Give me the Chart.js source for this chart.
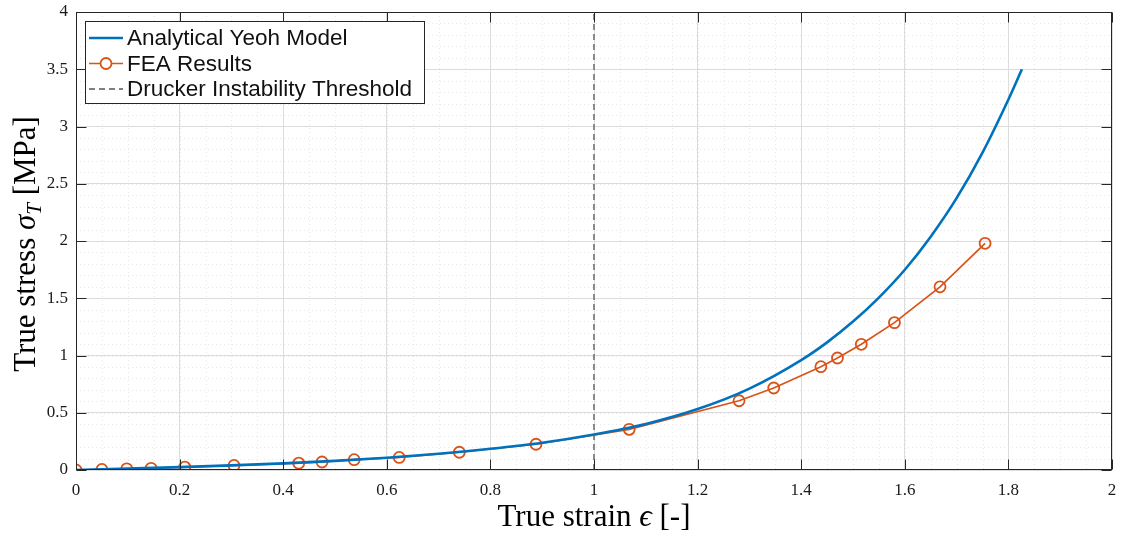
<!DOCTYPE html>
<html>
<head>
<meta charset="utf-8">
<script src="https://cdn.jsdelivr.net/npm/chart.js@4.4.0/dist/chart.umd.min.js"></script>
<style>
  html, body { margin: 0; padding: 0; background: #fff; }
  #wrap { width: 1123px; height: 536px; }
</style>
</head>
<body>
<div id="wrap"><canvas id="stressChart" width="1123" height="536"></canvas></div>
<script>
// analytical Yeoh curve
const yeohStrain = [0, 0.1, 0.2, 0.3, 0.4, 0.5, 0.6, 0.7, 0.8, 0.9, 1.0, 1.1, 1.2, 1.3, 1.4, 1.45, 1.5, 1.55, 1.6, 1.65, 1.7, 1.75, 1.8, 1.826];
const yeohStress = [0, 0.012, 0.025, 0.04, 0.058, 0.08, 0.107, 0.142, 0.185, 0.238, 0.31, 0.402, 0.532, 0.711, 0.96, 1.115, 1.296, 1.506, 1.749, 2.038, 2.374, 2.772, 3.236, 3.5];

// FEA markers
const feaStrain = [0, 0.05, 0.098, 0.145, 0.21, 0.305, 0.43, 0.475, 0.537, 0.624, 0.74, 0.888, 1.068, 1.28, 1.347, 1.438, 1.47, 1.516, 1.58, 1.668, 1.755];
const feaStress = [0, 0.005, 0.01, 0.015, 0.025, 0.04, 0.06, 0.07, 0.09, 0.11, 0.155, 0.225, 0.355, 0.605, 0.716, 0.902, 0.978, 1.098, 1.287, 1.6, 1.98];

const druckerStrain = 1;
const xTicks = [0, 0.2, 0.4, 0.6, 0.8, 1, 1.2, 1.4, 1.6, 1.8, 2];
const yTicks = [0, 0.5, 1, 1.5, 2, 2.5, 3, 3.5, 4];

const BLUE = '#0072BD';
const ORANGE = '#D95319';
const AXIS = '#262626';
const SERIF = '"Liberation Serif", "DejaVu Serif", serif';

const toPts = (xs, ys) => xs.map((x, i) => ({ x: x, y: ys[i] }));

// minor grid (dotted) under everything else
const minorGrid = {
  id: 'minorGrid',
  beforeDraw(chart) {
    const { ctx, chartArea: a, scales } = chart;
    ctx.save();
    ctx.fillStyle = '#fff';
    ctx.fillRect(0, 0, chart.width, chart.height);
    ctx.strokeStyle = '#e8e8e8';
    ctx.lineWidth = 1;
    ctx.setLineDash([1, 3]);
    for (let v = 0.05; v < 2; v += 0.05) {
      const px = Math.round(scales.x.getPixelForValue(v)) + 0.5;
      ctx.beginPath(); ctx.moveTo(px, a.top); ctx.lineTo(px, a.bottom); ctx.stroke();
    }
    for (let v = 0.1; v < 4; v += 0.1) {
      const py = Math.round(scales.y.getPixelForValue(v)) + 0.5;
      ctx.beginPath(); ctx.moveTo(a.left, py); ctx.lineTo(a.right, py); ctx.stroke();
    }
    ctx.restore();
  }
};

// matlab-like box, inward ticks, legend and latex-ish axis titles
const decorations = {
  id: 'decorations',
  afterDraw(chart) {
    const { ctx, chartArea: a, scales } = chart;
    ctx.save();
    ctx.strokeStyle = AXIS;
    ctx.lineWidth = 1;
    ctx.setLineDash([]);
    const L = Math.round(a.left) + 0.5, R = Math.round(a.right) - 0.5;
    const T = Math.round(a.top) + 0.5, B = Math.round(a.bottom) - 0.5;
    ctx.strokeRect(L, T, R - L, B - T);
    const tl = 10;
    xTicks.forEach(v => {
      const px = Math.round(scales.x.getPixelForValue(v)) + 0.5;
      ctx.beginPath();
      ctx.moveTo(px, B); ctx.lineTo(px, B - tl);
      ctx.moveTo(px, T); ctx.lineTo(px, T + tl);
      ctx.stroke();
    });
    yTicks.forEach(v => {
      const py = Math.round(scales.y.getPixelForValue(v)) + 0.5;
      ctx.beginPath();
      ctx.moveTo(L, py); ctx.lineTo(L + tl, py);
      ctx.moveTo(R, py); ctx.lineTo(R - tl, py);
      ctx.stroke();
    });

    // legend
    const bx = 85.5, by = 21.5, bw = 339, bh = 82;
    ctx.fillStyle = '#fff';
    ctx.fillRect(bx, by, bw, bh);
    ctx.strokeStyle = AXIS;
    ctx.strokeRect(bx, by, bw, bh);
    ctx.font = '22.5px "Liberation Sans", Arial, sans-serif';
    ctx.textBaseline = 'middle';
    ctx.textAlign = 'left';
    const rows = [38, 63.5, 89];
    chart.data.datasets.forEach((ds, i) => {
      const y = rows[i];
      ctx.save();
      ctx.strokeStyle = ds.borderColor;
      ctx.lineWidth = ds.borderWidth;
      ctx.setLineDash(ds.borderDash || []);
      ctx.beginPath(); ctx.moveTo(89, y); ctx.lineTo(123, y); ctx.stroke();
      if (ds.pointRadius > 0) {
        ctx.setLineDash([]);
        ctx.lineWidth = ds.pointBorderWidth;
        ctx.fillStyle = '#fff';
        ctx.beginPath(); ctx.arc(106, y, ds.pointRadius, 0, Math.PI * 2);
        ctx.fill(); ctx.stroke();
      }
      ctx.restore();
      ctx.fillStyle = '#111';
      ctx.fillText(ds.label, 127, y + 1);
    });

    // axis titles
    const drawParts = (parts, cx, cy) => {
      let total = 0;
      parts.forEach(p => { ctx.font = p.font; total += ctx.measureText(p.t).width; });
      let x = cx - total / 2;
      parts.forEach(p => {
        ctx.font = p.font;
        ctx.fillText(p.t, x, cy + (p.dy || 0));
        x += ctx.measureText(p.t).width;
      });
    };
    ctx.fillStyle = '#000';
    ctx.textBaseline = 'alphabetic';
    drawParts([
      { t: 'True strain ', font: '31px ' + SERIF },
      { t: 'ϵ', font: 'italic 31px ' + SERIF },
      { t: ' [-]', font: '31px ' + SERIF }
    ], (a.left + a.right) / 2, 526);

    ctx.save();
    ctx.translate(35, 244);
    ctx.rotate(-Math.PI / 2);
    drawParts([
      { t: 'True stress ', font: '31px ' + SERIF },
      { t: 'σ', font: 'italic 31px ' + SERIF },
      { t: 'T', font: 'italic 21px ' + SERIF, dy: 6 },
      { t: ' [MPa]', font: '31px ' + SERIF }
    ], 0, 0);
    ctx.restore();
    ctx.restore();
  }
};

const noScalePad = s => {
  s.paddingTop = 0; s.paddingBottom = 0; s.paddingLeft = 0; s.paddingRight = 0;
};

new Chart(document.getElementById('stressChart').getContext('2d'), {
  type: 'scatter',
  data: {
    datasets: [
      {
        label: 'Analytical Yeoh Model',
        data: toPts(yeohStrain, yeohStress),
        showLine: true,
        borderColor: BLUE,
        backgroundColor: BLUE,
        borderWidth: 2.6,
        pointRadius: 0,
        cubicInterpolationMode: 'monotone'
      },
      {
        label: 'FEA Results',
        data: toPts(feaStrain, feaStress),
        showLine: true,
        borderColor: ORANGE,
        backgroundColor: 'rgba(0,0,0,0)',
        borderWidth: 1.7,
        pointRadius: 5.5,
        pointBorderWidth: 1.8,
        pointBorderColor: ORANGE,
        pointBackgroundColor: 'rgba(0,0,0,0)',
        tension: 0
      },
      {
        label: 'Drucker Instability Threshold',
        data: [{ x: druckerStrain, y: 0 }, { x: druckerStrain, y: 4 }],
        showLine: true,
        borderColor: '#808080',
        borderWidth: 1.8,
        borderDash: [6, 4],
        pointRadius: 0
      }
    ]
  },
  options: {
    responsive: false,
    animation: false,
    layout: { padding: { top: 12, right: 11, left: 0, bottom: 0 }, autoPadding: false },
    plugins: {
      legend: { display: false },
      tooltip: { enabled: false }
    },
    scales: {
      x: {
        type: 'linear',
        min: 0, max: 2,
        afterBuildTicks: s => { s.ticks = xTicks.map(v => ({ value: v })); },
        afterFit: s => { s.height = 66; noScalePad(s); },
        grid: { color: '#dcdcdc', drawTicks: false },
        border: { display: false },
        ticks: {
          padding: 10,
          color: '#1a1a1a',
          font: { family: SERIF, size: 17 },
          maxRotation: 0,
          callback: v => String(v)
        }
      },
      y: {
        type: 'linear',
        min: 0, max: 4,
        afterBuildTicks: s => { s.ticks = yTicks.map(v => ({ value: v })); },
        afterFit: s => { s.width = 76; noScalePad(s); },
        grid: { color: '#dcdcdc', drawTicks: false },
        border: { display: false },
        ticks: {
          padding: 8,
          color: '#1a1a1a',
          font: { family: SERIF, size: 17 },
          callback: v => String(v)
        }
      }
    }
  },
  plugins: [minorGrid, decorations]
});
</script>
</body>
</html>
